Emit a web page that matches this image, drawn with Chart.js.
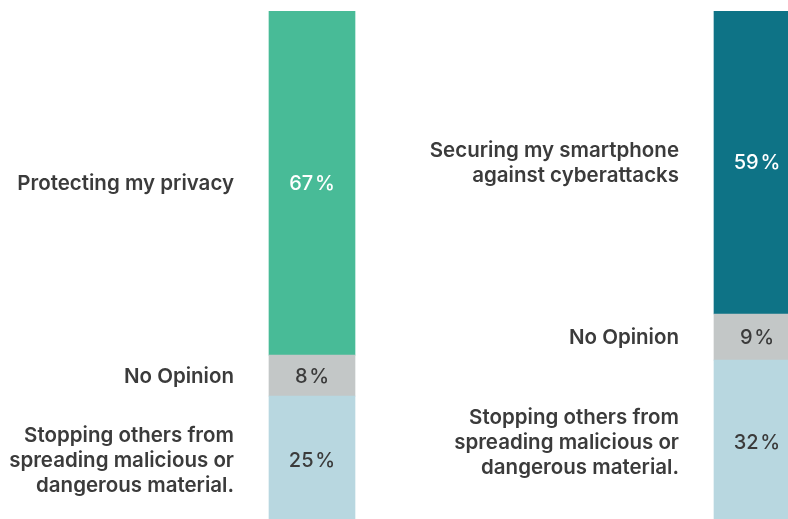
<!DOCTYPE html>
<html>
<head>
<meta charset="utf-8">
<script src="https://cdn.jsdelivr.net/npm/chart.js@4/dist/chart.umd.min.js"></script>
<style>
  html, body { margin: 0; padding: 0; background: #fff; overflow: hidden; }
  #wrap { width: 788px; height: 519px; overflow: hidden; }
</style>
</head>
<body>
<div id="wrap"><canvas id="myChart" width="1000" height="530"></canvas></div>
<script>
// two survey questions, one stacked bar each
const questions = ["Privacy", "Security"];

// bottom -> top stacking order
const stoppingValues = [25, 32];
const noOpinionValues = [8, 9];
const mainValues = [67, 59];

const stoppingLabels = [
  ["Stopping others from", "spreading malicious or", "dangerous material."],
  ["Stopping others from", "spreading malicious or", "dangerous material."]
];
const noOpinionLabels = [["No Opinion"], ["No Opinion"]];
const mainLabels = [
  ["Protecting my privacy"],
  ["Securing my smartphone", "against cyberattacks"]
];

const FONT = "Inter, 'Noto Sans', sans-serif";
const TEXT = "#3b3b3b";

const segmentLabels = {
  id: "segmentLabels",
  afterDatasetsDraw(chart) {
    const ctx = chart.ctx;
    ctx.save();
    chart.data.datasets.forEach((ds, di) => {
      const meta = chart.getDatasetMeta(di);
      meta.data.forEach((bar, i) => {
        const midY = (bar.y + bar.base) / 2;
        // value inside the bar
        ctx.font = "500 20px " + FONT;
        ctx.textAlign = "center";
        ctx.textBaseline = "middle";
        ctx.fillStyle = ds.valueColor[i];
        ctx.fillText(ds.data[i] + "\u200A%", bar.x, midY + 1);
        // category text on the left
        const lines = ds.textLines[i];
        const lh = 25;
        ctx.font = "600 20.5px " + FONT;
        ctx.textAlign = "right";
        ctx.fillStyle = TEXT;
        const x = bar.x - bar.width / 2 - 35;
        lines.forEach((ln, k) => {
          ctx.fillText(ln, x, midY + 1 + (k - (lines.length - 1) / 2) * lh);
        });
      });
    });
    ctx.restore();
  }
};

const ctx = document.getElementById("myChart");
let myChart = new Chart(ctx, {
  type: "bar",
  data: {
    labels: questions,
    datasets: [
      {
        label: "Stopping others",
        data: stoppingValues,
        backgroundColor: ["#b8d7e0", "#b8d7e0"],
        valueColor: [TEXT, TEXT],
        textLines: stoppingLabels
      },
      {
        label: "No Opinion",
        data: noOpinionValues,
        backgroundColor: ["#c3c7c7", "#c3c7c7"],
        valueColor: [TEXT, TEXT],
        textLines: noOpinionLabels
      },
      {
        label: "Main",
        data: mainValues,
        backgroundColor: ["#48bb97", "#0e7386"],
        valueColor: ["#ffffff", "#ffffff"],
        textLines: mainLabels
      }
    ]
  },
  options: {
    responsive: false,
    animation: false,
    devicePixelRatio: 1,
    layout: { padding: { left: 89.5, right: 20.5, top: 11, bottom: 5.5 } },
    datasets: { bar: { barThickness: 86, borderWidth: 0 } },
    plugins: { legend: { display: false }, tooltip: { enabled: false } },
    scales: {
      x: { stacked: true, display: false },
      y: { stacked: true, display: false, min: 0, max: 100 }
    }
  },
  plugins: [segmentLabels]
});
</script>
</body>
</html>
